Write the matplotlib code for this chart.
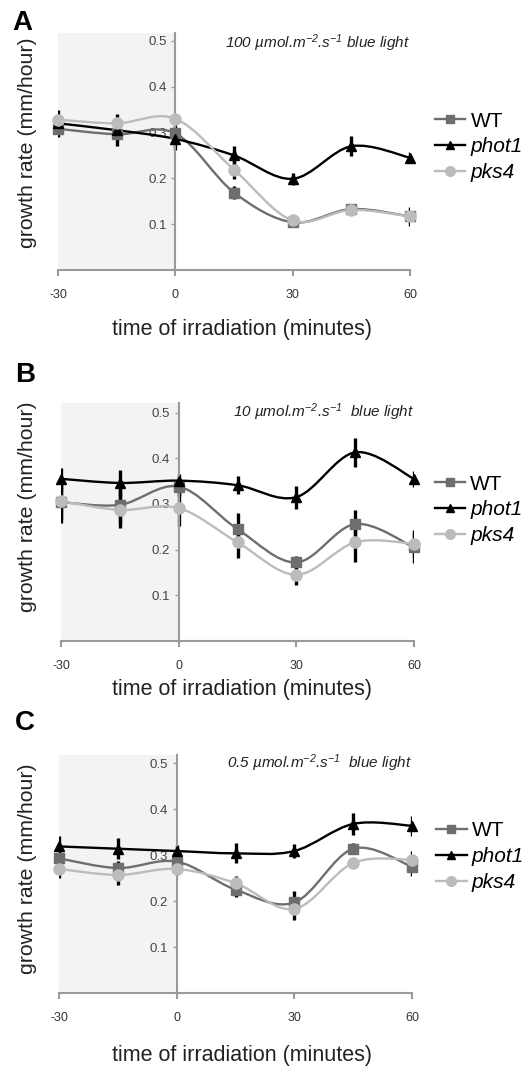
import matplotlib
matplotlib.use("Agg")
import matplotlib.pyplot as plt
import numpy as np
from matplotlib.path import Path
from matplotlib.patches import PathPatch
from matplotlib.lines import Line2D

plt.rcParams['font.family'] = ['Liberation Sans', 'DejaVu Sans']
plt.rcParams['mathtext.fontset'] = 'custom'
plt.rcParams['mathtext.rm'] = 'Liberation Sans:italic'
plt.rcParams['mathtext.it'] = 'Liberation Sans:italic'
plt.rcParams['mathtext.default'] = 'rm'

# time points (minutes)
times = [-30, -15, 0, 15, 30, 45, 60]
xticks = [-30, 0, 30, 60]
yticks = [0.1, 0.2, 0.3, 0.4, 0.5]
series_names = ["WT", "phot1", "pks4"]

# panel A: 100 umol blue light
a_wt = [0.308, 0.296, 0.298, 0.169, 0.104, 0.133, 0.117]
a_wt_err = [0.012, 0.025, 0.02, 0.015, 0.01, 0.01, 0.02]
a_phot1 = [0.320, 0.305, 0.286, 0.250, 0.199, 0.270, 0.245]
a_phot1_err = [0.03, 0.02, 0.025, 0.02, 0.013, 0.022, 0.012]
a_pks4 = [0.328, 0.320, 0.330, 0.219, 0.108, 0.131, 0.117]
a_pks4_err = [0.01, 0.02, 0.01, 0.02, 0.013, 0.01, 0.015]

# panel B: 10 umol blue light
b_wt = [0.304, 0.298, 0.338, 0.245, 0.172, 0.256, 0.205]
b_wt_err = [0.046, 0.04, 0.02, 0.035, 0.013, 0.03, 0.035]
b_phot1 = [0.355, 0.346, 0.351, 0.341, 0.315, 0.413, 0.355]
b_phot1_err = [0.024, 0.029, 0.015, 0.02, 0.025, 0.032, 0.017]
b_pks4 = [0.306, 0.287, 0.291, 0.216, 0.145, 0.216, 0.213]
b_pks4_err = [0.04, 0.04, 0.04, 0.035, 0.022, 0.042, 0.03]

# panel C: 0.5 umol blue light
c_wt = [0.293, 0.272, 0.286, 0.225, 0.197, 0.314, 0.275]
c_wt_err = [0.015, 0.015, 0.01, 0.015, 0.025, 0.012, 0.02]
c_phot1 = [0.319, 0.314, 0.309, 0.304, 0.309, 0.368, 0.364]
c_phot1_err = [0.022, 0.023, 0.013, 0.022, 0.015, 0.024, 0.022]
c_pks4 = [0.270, 0.257, 0.270, 0.239, 0.183, 0.283, 0.290]
c_pks4_err = [0.02, 0.021, 0.013, 0.015, 0.024, 0.01, 0.018]

panels = [
    ("A", r"100 µmol.m$^{-2}$.s$^{-1}$ blue light",
     [(a_wt, a_wt_err), (a_phot1, a_phot1_err), (a_pks4, a_pks4_err)]),
    ("B", r"10 µmol.m$^{-2}$.s$^{-1}$  blue light",
     [(b_wt, b_wt_err), (b_phot1, b_phot1_err), (b_pks4, b_pks4_err)]),
    ("C", r"0.5 µmol.m$^{-2}$.s$^{-1}$  blue light",
     [(c_wt, c_wt_err), (c_phot1, c_phot1_err), (c_pks4, c_pks4_err)]),
]

colors = ["#6e6e6e", "#000000", "#bcbcbc"]
markers = ["s", "^", "o"]
msizes = [7, 7, 8]

# layout in pixels (top, bottom of plot, left, right)
boxes = [(33, 270, 58, 410), (403, 641, 61, 414), (755, 993, 59, 412)]
ytops = [0.517, 0.521, 0.518]
label_pos = [(12, 23), (15, 375), (15, 723)]
ylab_y = [143, 507, 869]
xlab_y = [330, 690, 1055]
leg_y = [0.52, 0.551, 0.573]
leg_x = [1.071, 1.059, 1.069]
note_y = [0.495, 0.5, 0.5]

W, H = 523, 1067
fig = plt.figure(figsize=(W / 100, H / 100), dpi=100)


def smooth_path(xs, ys):
    # Excel-style smoothed line through the points
    pts = np.column_stack([xs, ys])
    verts = [pts[0]]
    codes = [Path.MOVETO]
    n = len(pts)
    for i in range(n - 1):
        p0 = pts[i - 1] if i > 0 else pts[i]
        p1 = pts[i]
        p2 = pts[i + 1]
        p3 = pts[i + 2] if i + 2 < n else pts[i + 1]
        c1 = p1 + (p2 - p0) / 6
        c2 = p2 - (p3 - p1) / 6
        verts += [c1, c2, p2]
        codes += [Path.CURVE4] * 3
    return Path(verts, codes)


for k, (letter, note, data) in enumerate(panels):
    top, bot, left, right = boxes[k]
    ax = fig.add_axes([left / W, 1 - bot / H, (right - left) / W, (bot - top) / H])
    ax.set_xlim(-30, 60)
    ax.set_ylim(0, ytops[k])
    ax.axvspan(-30, 0, color="#f3f3f3", zorder=0, lw=0)

    for s, (vals, errs) in enumerate(data):
        ax.add_patch(PathPatch(smooth_path(times, vals), fill=False,
                               edgecolor=colors[s], lw=1.7, zorder=3 + s * 0.1,
                               clip_on=False))
        ax.errorbar(times, vals, yerr=errs, fmt="none", ecolor="black",
                    elinewidth=2.4, capsize=0, zorder=2.5)
        ax.plot(times, vals, linestyle="none", marker=markers[s],
                color=colors[s], markersize=msizes[s], zorder=4 + s * 0.1,
                clip_on=False)

    for side in ["top", "right"]:
        ax.spines[side].set_visible(False)
    ax.spines["left"].set_position(("data", 0))
    ax.spines["left"].set_color("#9a9a9a")
    ax.spines["bottom"].set_color("#9a9a9a")
    ax.spines["left"].set_linewidth(1.5)
    ax.spines["bottom"].set_linewidth(1.5)
    ax.set_xticks(xticks)
    ax.set_xticklabels([str(t) for t in xticks])
    ax.set_yticks(yticks)
    ax.set_yticklabels([f"{t:.1f}" for t in yticks])
    ax.tick_params(axis="x", colors="#9a9a9a", labelcolor="#333333",
                   length=4, width=1.5, labelsize=9, pad=9.5)
    ax.tick_params(axis="y", colors="#9a9a9a", labelcolor="#444444",
                   length=3, width=1, labelsize=9.5, pad=3)
    ax.patch.set_alpha(0)

    ax.text(60, note_y[k], note, ha="right", va="center", fontsize=11,
            style="italic", color="#222222")

    handles = [Line2D([], [], color=colors[s], marker=markers[s], lw=1.7,
                      markersize=msizes[s] - 1) for s in range(3)]
    leg = ax.legend(handles, series_names, loc="center left",
                    bbox_to_anchor=(leg_x[k], leg_y[k]), frameon=False,
                    fontsize=15, handlelength=1.45, handletextpad=0.25,
                    labelspacing=0.32, borderpad=0, borderaxespad=0)
    for t in leg.get_texts()[1:]:
        t.set_style("italic")

    fig.text(label_pos[k][0] / W, 1 - label_pos[k][1] / H, letter,
             fontsize=20, fontweight="bold", ha="left", va="center")
    fig.text(28 / W, 1 - ylab_y[k] / H, "growth rate (mm/hour)", rotation=90,
             fontsize=15.3, ha="center", va="center", color="#222222")
    fig.text(242 / W, 1 - xlab_y[k] / H, "time of irradiation (minutes)",
             fontsize=15.5, ha="center", va="center", color="#222222")

fig.savefig("out.png", dpi=100)
